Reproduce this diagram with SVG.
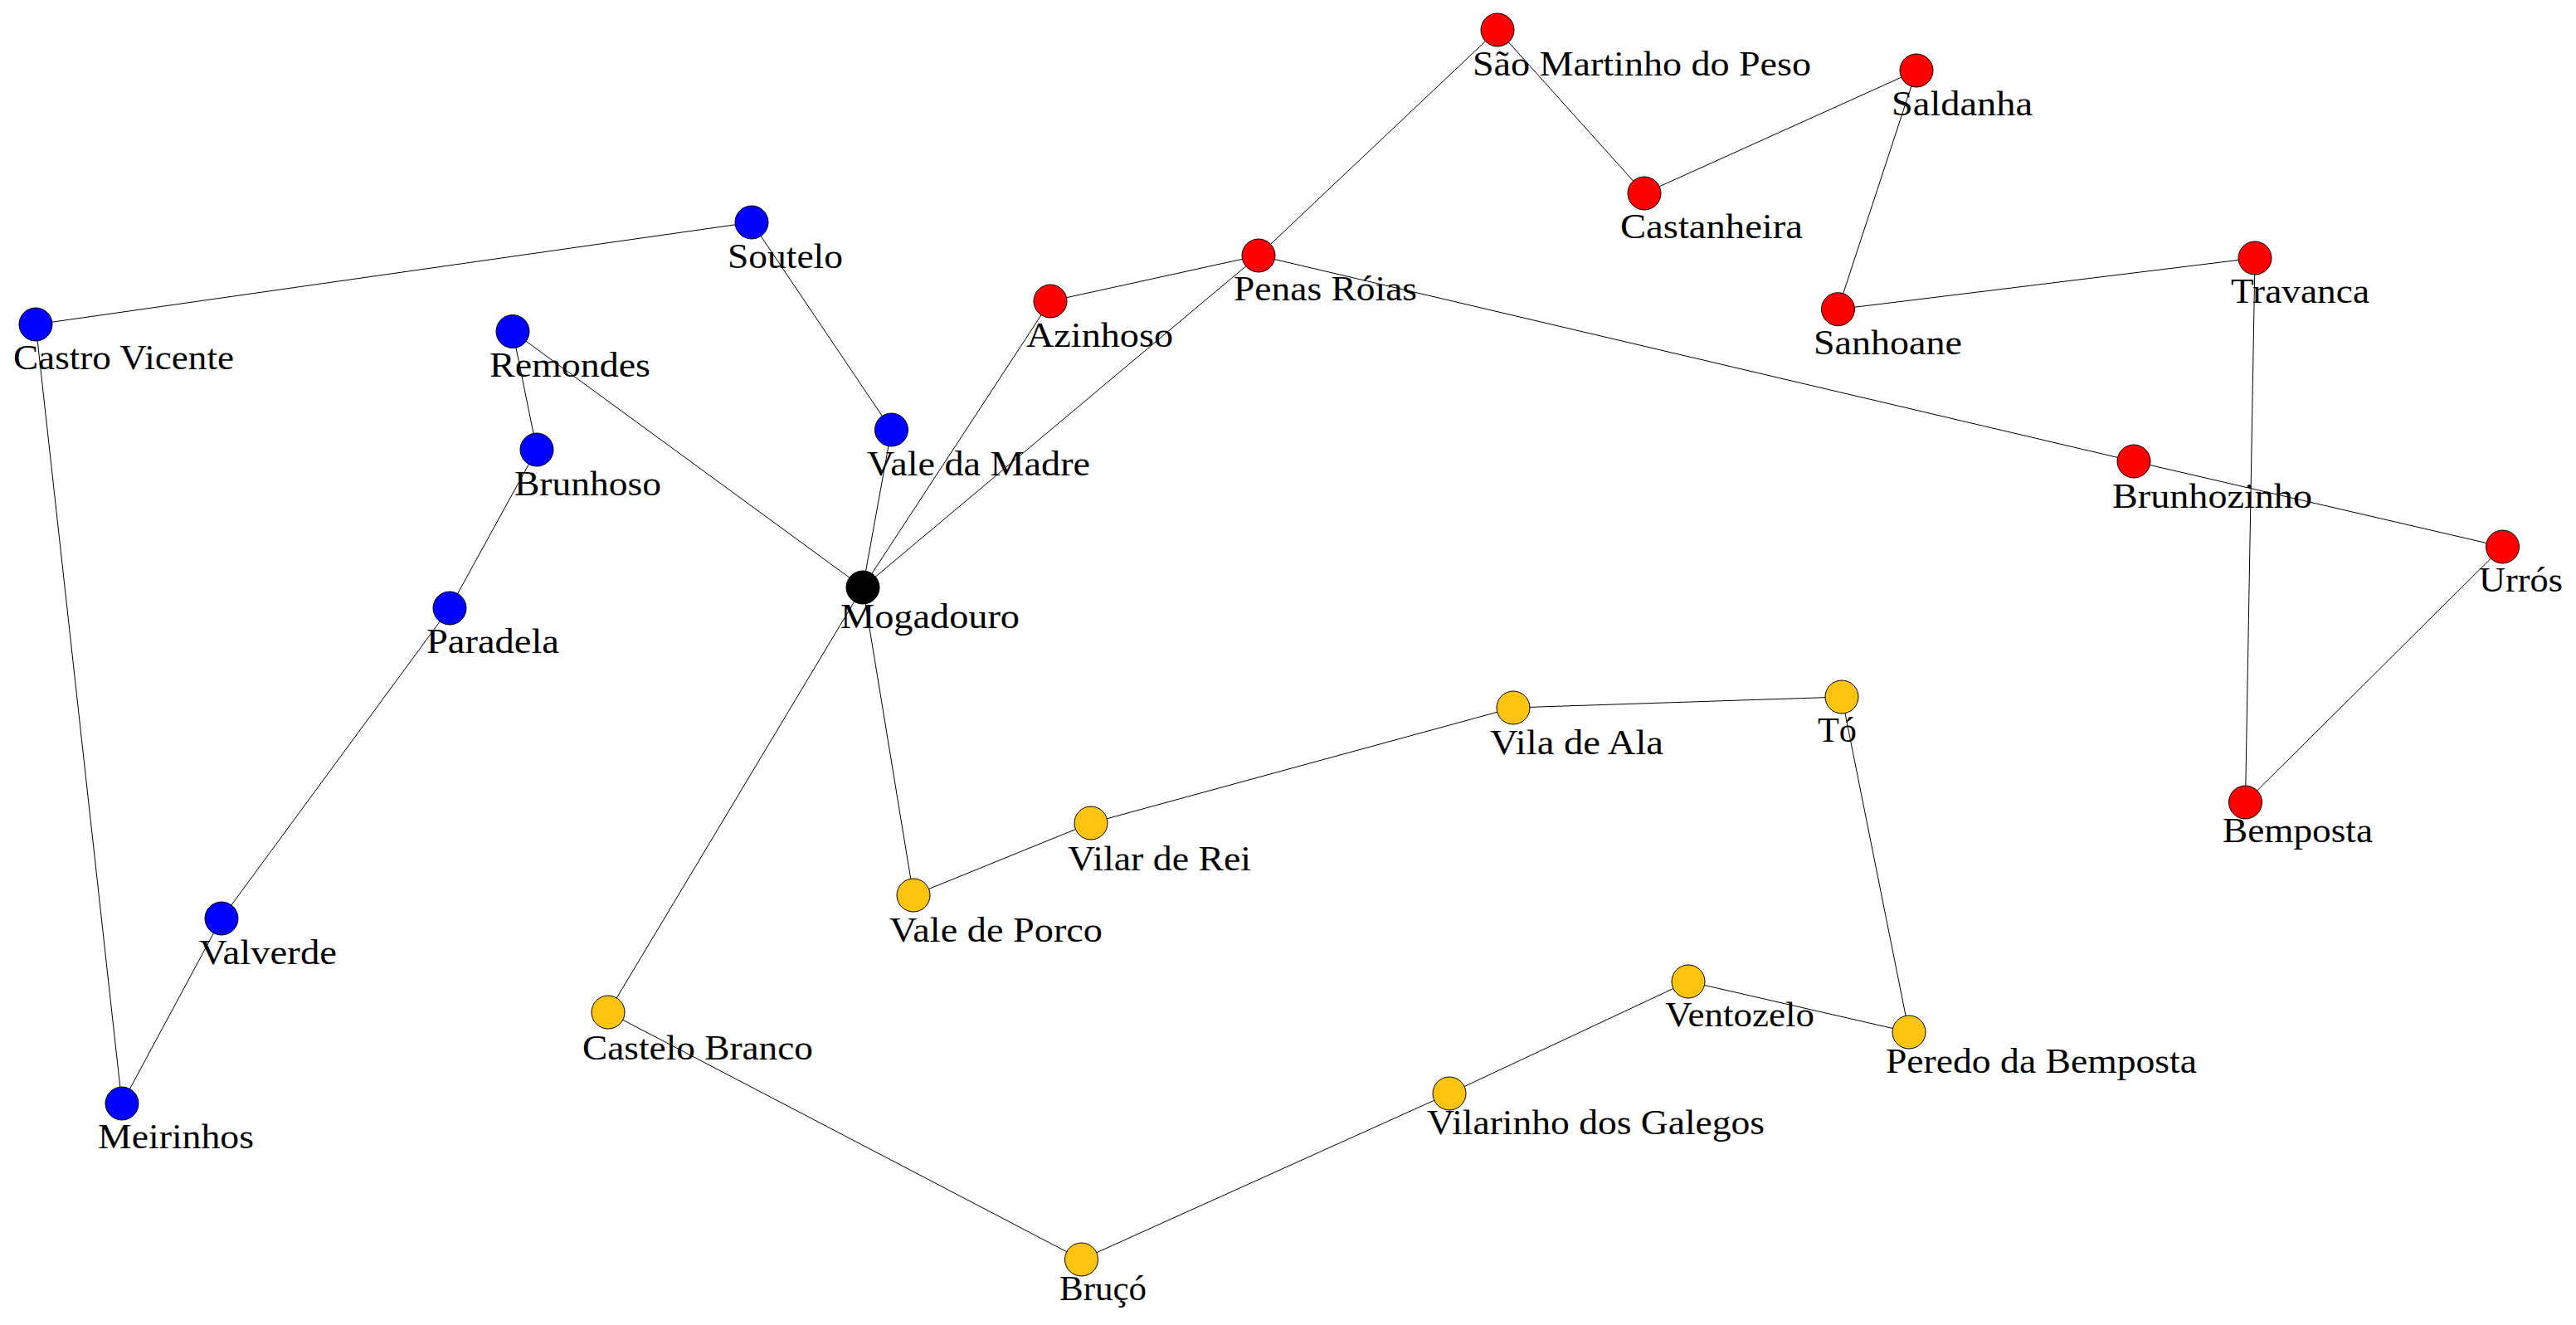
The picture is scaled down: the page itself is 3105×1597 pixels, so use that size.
<svg xmlns="http://www.w3.org/2000/svg" width="3105" height="1597" viewBox="0 0 3105 1597">
<style>
.e{stroke:#000;stroke-width:1;fill:none}
.n{stroke:#000;stroke-width:1}
.b{fill:#0000FF}.r{fill:#FF0000}.y{fill:#FEC410}.k{fill:#000}
text{font-family:"Liberation Serif","Times New Roman",serif;font-size:42px;fill:#000}
</style>
<rect width="3105" height="1597" fill="#fff"/>
<g id="edges">
<line class="e" x1="43" y1="391" x2="906" y2="268"/>
<line class="e" x1="43" y1="391" x2="147" y2="1330"/>
<line class="e" x1="906" y1="268" x2="1074.5" y2="518"/>
<line class="e" x1="618" y1="399.5" x2="647" y2="542"/>
<line class="e" x1="618" y1="399.5" x2="1040" y2="708"/>
<line class="e" x1="647" y1="542" x2="542" y2="733"/>
<line class="e" x1="542" y1="733" x2="267" y2="1107"/>
<line class="e" x1="267" y1="1107" x2="147" y2="1330"/>
<line class="e" x1="1074.5" y1="518" x2="1040" y2="708"/>
<line class="e" x1="1040" y1="708" x2="1266" y2="363"/>
<line class="e" x1="1040" y1="708" x2="1517" y2="308"/>
<line class="e" x1="1040" y1="708" x2="1101" y2="1079"/>
<line class="e" x1="1040" y1="708" x2="733" y2="1220"/>
<line class="e" x1="1266" y1="363" x2="1517" y2="308"/>
<line class="e" x1="1517" y1="308" x2="1805" y2="36"/>
<line class="e" x1="1517" y1="308" x2="2572" y2="556"/>
<line class="e" x1="1805" y1="36" x2="1982" y2="233"/>
<line class="e" x1="1982" y1="233" x2="2310" y2="85"/>
<line class="e" x1="2310" y1="85" x2="2215.5" y2="372.7"/>
<line class="e" x1="2215.5" y1="372.7" x2="2718" y2="311"/>
<line class="e" x1="2718" y1="311" x2="2706.5" y2="967"/>
<line class="e" x1="2572" y1="556" x2="3016.5" y2="659"/>
<line class="e" x1="3016.5" y1="659" x2="2706.5" y2="967"/>
<line class="e" x1="1101" y1="1079" x2="1315" y2="992"/>
<line class="e" x1="1315" y1="992" x2="1824" y2="853"/>
<line class="e" x1="1824" y1="853" x2="2220" y2="840"/>
<line class="e" x1="2220" y1="840" x2="2301" y2="1244"/>
<line class="e" x1="2301" y1="1244" x2="2035" y2="1183"/>
<line class="e" x1="2035" y1="1183" x2="1747" y2="1318"/>
<line class="e" x1="1747" y1="1318" x2="1303.5" y2="1518"/>
<line class="e" x1="1303.5" y1="1518" x2="733" y2="1220"/>
</g>
<g id="n_soutelo"><circle class="n b" cx="906" cy="268" r="20"/><text x="877" y="323" textLength="139" lengthAdjust="spacingAndGlyphs">Soutelo</text></g>
<g id="n_castro_vicente"><circle class="n b" cx="43" cy="391" r="20"/><text x="16" y="445" textLength="266" lengthAdjust="spacingAndGlyphs">Castro Vicente</text></g>
<g id="n_remondes"><circle class="n b" cx="618" cy="399.5" r="20"/><text x="590" y="454" textLength="194" lengthAdjust="spacingAndGlyphs">Remondes</text></g>
<g id="n_brunhoso"><circle class="n b" cx="647" cy="542" r="20"/><text x="620" y="597" textLength="177" lengthAdjust="spacingAndGlyphs">Brunhoso</text></g>
<g id="n_vale_da_madre"><circle class="n b" cx="1074.5" cy="518" r="20"/><text x="1045" y="573" textLength="269" lengthAdjust="spacingAndGlyphs">Vale da Madre</text></g>
<g id="n_paradela"><circle class="n b" cx="542" cy="733" r="20"/><text x="514" y="787" textLength="160" lengthAdjust="spacingAndGlyphs">Paradela</text></g>
<g id="n_valverde"><circle class="n b" cx="267" cy="1107" r="20"/><text x="240" y="1162" textLength="166" lengthAdjust="spacingAndGlyphs">Valverde</text></g>
<g id="n_meirinhos"><circle class="n b" cx="147" cy="1330" r="20"/><text x="118" y="1384" textLength="188" lengthAdjust="spacingAndGlyphs">Meirinhos</text></g>
<g id="n_mogadouro"><circle class="n k" cx="1040" cy="708" r="20"/><text x="1013" y="757" textLength="216" lengthAdjust="spacingAndGlyphs">Mogadouro</text></g>
<g id="n_sao_martinho"><circle class="n r" cx="1805" cy="36" r="20"/><text x="1775" y="91" textLength="408" lengthAdjust="spacingAndGlyphs">São Martinho do Peso</text></g>
<g id="n_saldanha"><circle class="n r" cx="2310" cy="85" r="20"/><text x="2280" y="139" textLength="170" lengthAdjust="spacingAndGlyphs">Saldanha</text></g>
<g id="n_castanheira"><circle class="n r" cx="1982" cy="233" r="20"/><text x="1953" y="287" textLength="220" lengthAdjust="spacingAndGlyphs">Castanheira</text></g>
<g id="n_penas_roias"><circle class="n r" cx="1517" cy="308" r="20"/><text x="1487" y="362" textLength="221" lengthAdjust="spacingAndGlyphs">Penas Róias</text></g>
<g id="n_azinhoso"><circle class="n r" cx="1266" cy="363" r="20"/><text x="1237" y="418" textLength="177" lengthAdjust="spacingAndGlyphs">Azinhoso</text></g>
<g id="n_sanhoane"><circle class="n r" cx="2215.5" cy="372.7" r="20"/><text x="2186" y="427" textLength="179" lengthAdjust="spacingAndGlyphs">Sanhoane</text></g>
<g id="n_travanca"><circle class="n r" cx="2718" cy="311" r="20"/><text x="2689" y="365" textLength="167" lengthAdjust="spacingAndGlyphs">Travanca</text></g>
<g id="n_brunhozinho"><circle class="n r" cx="2572" cy="556" r="20"/><text x="2546" y="612" textLength="241" lengthAdjust="spacingAndGlyphs">Brunhozinho</text></g>
<g id="n_urros"><circle class="n r" cx="3016.5" cy="659" r="20"/><text x="2988" y="713" textLength="101" lengthAdjust="spacingAndGlyphs">Urrós</text></g>
<g id="n_bemposta"><circle class="n r" cx="2706.5" cy="967" r="20"/><text x="2679" y="1015" textLength="181" lengthAdjust="spacingAndGlyphs">Bemposta</text></g>
<g id="n_to"><circle class="n y" cx="2220" cy="840" r="20"/><text x="2191" y="894" textLength="47" lengthAdjust="spacingAndGlyphs">Tó</text></g>
<g id="n_vila_de_ala"><circle class="n y" cx="1824" cy="853" r="20"/><text x="1796" y="909" textLength="209" lengthAdjust="spacingAndGlyphs">Vila de Ala</text></g>
<g id="n_vilar_de_rei"><circle class="n y" cx="1315" cy="992" r="20"/><text x="1287" y="1049" textLength="221" lengthAdjust="spacingAndGlyphs">Vilar de Rei</text></g>
<g id="n_vale_de_porco"><circle class="n y" cx="1101" cy="1079" r="20"/><text x="1072" y="1135" textLength="257" lengthAdjust="spacingAndGlyphs">Vale de Porco</text></g>
<g id="n_castelo_branco"><circle class="n y" cx="733" cy="1220" r="20"/><text x="702" y="1277" textLength="278" lengthAdjust="spacingAndGlyphs">Castelo Branco</text></g>
<g id="n_ventozelo"><circle class="n y" cx="2035" cy="1183" r="20"/><text x="2007" y="1237" textLength="180" lengthAdjust="spacingAndGlyphs">Ventozelo</text></g>
<g id="n_peredo"><circle class="n y" cx="2301" cy="1244" r="20"/><text x="2273" y="1293" textLength="375" lengthAdjust="spacingAndGlyphs">Peredo da Bemposta</text></g>
<g id="n_vilarinho"><circle class="n y" cx="1747" cy="1318" r="20"/><text x="1720" y="1367" textLength="407" lengthAdjust="spacingAndGlyphs">Vilarinho dos Galegos</text></g>
<g id="n_bruco"><circle class="n y" cx="1303.5" cy="1518" r="20"/><text x="1277" y="1567" textLength="105" lengthAdjust="spacingAndGlyphs">Bruçó</text></g>
</svg>
